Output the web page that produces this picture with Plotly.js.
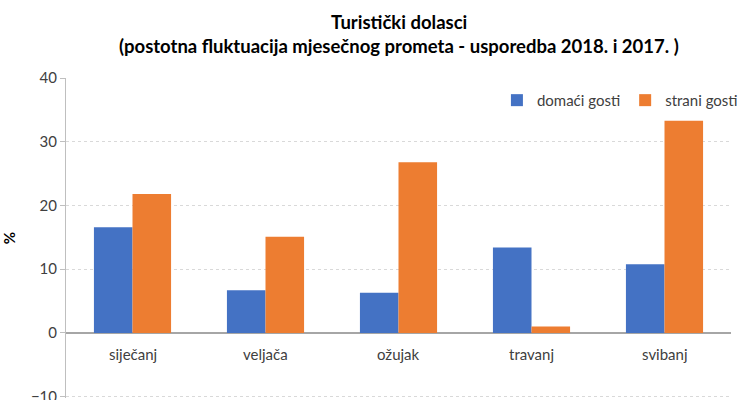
<!DOCTYPE html>
<html><head><meta charset="utf-8">
<script src="https://cdn.plot.ly/plotly-3.0.1.min.js"></script>
<style>html,body{margin:0;padding:0;background:#fff}#c{width:743px;height:400px}</style>
</head><body><div id="c"></div>
<script>
const categories = ["siječanj", "veljača", "ožujak", "travanj", "svibanj"];
const domaci = [16.6, 6.7, 6.3, 13.4, 10.8];
const strani = [21.8, 15.1, 26.8, 1.0, 33.3];
const seriesNames = ["domaći gosti", "strani gosti"];
const yTicks = [-10, 0, 10, 20, 30, 40];
const titleLines = ["Turistički dolasci", "(postotna fluktuacija mjesečnog prometa - usporedba 2018. i 2017. )"];

const font = "Lato, 'Open Sans', sans-serif";
const traces = [
  {type: "bar", x: categories, y: domaci, name: seriesNames[0], marker: {color: "#4472C4"}},
  {type: "bar", x: categories, y: strani, name: seriesNames[1], marker: {color: "#ED7D31"}}
];
const annotations = categories.map(c => ({
  x: c, y: 0, xref: "x", yref: "y", text: c, showarrow: false,
  yanchor: "top", yshift: -10, font: {family: font, size: 15, color: "#404040"}
}));
const H = 400, T = 78, B = 2;
const ph = H - T - B;
titleLines.forEach((t, i) => {
  const py = [22, 46][i];
  annotations.push({
    x: 0.5, y: (H - B - py) / ph, xref: "paper", yref: "paper", xanchor: "center", yanchor: "middle",
    text: "<b>" + t + "</b>", showarrow: false, font: {family: font, size: 18.5, color: "#000"}
  });
});
const layout = {
  width: 743, height: H,
  margin: {l: 66, r: 0, t: T, b: B},
  paper_bgcolor: "#fff", plot_bgcolor: "#fff",
  font: {family: font, color: "#404040"},
  barmode: "group", bargap: 0.42, bargroupgap: 0,
  xaxis: {showticklabels: false, showgrid: false, zeroline: false, showline: false, ticks: ""},
  yaxis: {range: [-10.2, 40], tickvals: yTicks, showgrid: true, gridcolor: "#d9d9d9", griddash: "dot",
    zeroline: true, zerolinecolor: "#a6a6a6", zerolinewidth: 1.5,
    showline: true, linecolor: "#bfbfbf", ticks: "outside", ticklen: 5, tickcolor: "#bfbfbf",
    ticklabeloverflow: "allow",
    tickfont: {family: font, size: 15, color: "#404040"},
    title: {text: "<b>%</b>", standoff: 22, font: {family: font, size: 15, color: "#000"}}},
  legend: {orientation: "h", x: 0.648, y: 0.93, xanchor: "left", yanchor: "middle",
    font: {family: font, size: 15, color: "#404040"}, bgcolor: "rgba(0,0,0,0)", itemwidth: 30},
  annotations: annotations
};
Plotly.newPlot("c", traces, layout, {displayModeBar: false, staticPlot: true});
</script></body></html>
